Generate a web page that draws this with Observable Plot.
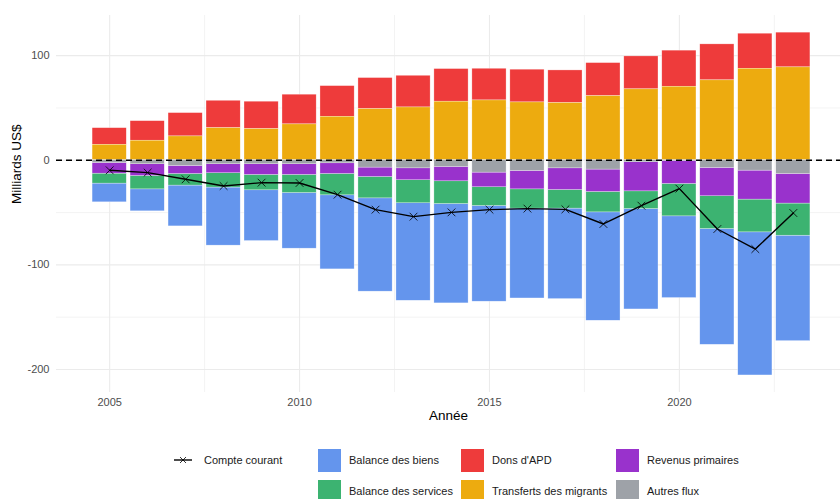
<!DOCTYPE html>
<html>
<head>
<meta charset="utf-8">
<script src="https://cdn.jsdelivr.net/npm/d3@7"></script>
<script src="https://cdn.jsdelivr.net/npm/@observablehq/plot@0.6"></script>
<style>
  html, body { margin: 0; padding: 0; background: #fff; overflow: hidden; }
  body { font-family: "Liberation Sans", Arial, sans-serif; width: 840px; height: 499px; }
  #legend { position: relative; width: 840px; height: 69px; font-size: 11px; color: #1a1a1a; }
  #legend .sw { position: absolute; width: 23px; height: 23px; }
  #legend .lb { position: absolute; line-height: 14px; white-space: nowrap; }
</style>
</head>
<body>
<div id="chart"></div>
<div id="legend"></div>
<script>
const years = [2005, 2006, 2007, 2008, 2009, 2010, 2011, 2012, 2013, 2014, 2015, 2016, 2017, 2018, 2019, 2020, 2021, 2022, 2023];

const transfertsMigrants = [14.8, 18.7, 22.8, 30.7, 29.8, 34.3, 41.6, 48.9, 50.5, 56.0, 57.2, 55.3, 54.7, 61.3, 67.8, 70.3, 76.4, 87.5, 88.8];
const donsAPD = [15.9, 18.7, 22.3, 26.2, 26.2, 28.4, 29.3, 29.7, 30.3, 31.2, 30.3, 31.3, 31.2, 31.6, 31.5, 34.5, 34.4, 33.5, 33.2];
const autresFlux = [-2.6, -3.8, -5.4, -3.8, -3.8, -3.8, -2.9, -7.0, -7.7, -6.4, -11.8, -10.2, -7.7, -8.9, -1.9, -0.6, -7.3, -9.9, -13.1];
const revenusPrimaires = [-10.2, -11.2, -7.7, -8.6, -10.2, -10.2, -10.2, -9.0, -11.4, -13.7, -14.0, -17.6, -20.7, -21.4, -27.8, -22.0, -27.1, -27.7, -28.3];
const balanceServices = [-9.5, -12.8, -11.1, -13.7, -14.7, -17.3, -20.4, -20.4, -22.0, -21.7, -17.9, -18.4, -17.8, -19.5, -16.9, -31.0, -31.3, -31.3, -30.7];
const balanceBiens = [-17.9, -21.0, -39.0, -55.5, -48.5, -53.2, -70.8, -89.2, -93.2, -95.0, -91.5, -85.9, -86.5, -103.6, -96.0, -78.1, -110.7, -136.8, -100.8];
const compteCourant = [-9.6, -11.8, -18.2, -24.6, -21.4, -21.7, -32.9, -47.2, -53.9, -49.8, -47.2, -46.2, -46.9, -60.9, -43.4, -27.1, -65.7, -84.9, -50.4];

const seriesNames = ["Balance des biens", "Balance des services", "Dons d'APD", "Transferts des migrants", "Revenus primaires", "Autres flux"];
const seriesColors = ["#6495ED", "#3CB371", "#EE3B3B", "#EDAB0F", "#9932CC", "#9EA2A8"];
const stackOrder = ["Autres flux", "Revenus primaires", "Balance des services", "Balance des biens", "Transferts des migrants", "Dons d'APD"];
const yTicks = [-200, -100, 0, 100];
const yMinor = [-150, -50, 50];
const xTicks = [2005, 2010, 2015, 2020];
const xMinor = [2007.5, 2012.5, 2017.5, 2022.5];

const seriesValues = {
  "Balance des biens": balanceBiens,
  "Balance des services": balanceServices,
  "Dons d'APD": donsAPD,
  "Transferts des migrants": transfertsMigrants,
  "Revenus primaires": revenusPrimaires,
  "Autres flux": autresFlux
};

const rows = [];
for (const name of seriesNames) {
  seriesValues[name].forEach((v, i) => rows.push({year: years[i], serie: name, value: v}));
}
const caRows = years.map((y, i) => ({year: y, value: compteCourant[i]}));

const chart = Plot.plot({
  width: 840,
  height: 430,
  marginLeft: 56,
  marginRight: 0,
  marginTop: 15,
  marginBottom: 38,
  style: {fontFamily: "'Liberation Sans', Arial, sans-serif", fontSize: "11px", color: "#4d4d4d", background: "white"},
  x: {type: "linear", domain: [2003.6, 2024.4], range: [56, 846], ticks: xTicks, tickFormat: d => String(d), tickSize: 0, tickPadding: 6, label: null},
  y: {domain: [-222, 138.4], ticks: yTicks, tickFormat: d => String(d), tickSize: 0, tickPadding: 7, label: null},
  color: {domain: seriesNames, range: seriesColors},
  marks: [
    Plot.ruleY(yMinor, {stroke: "#ebebeb", strokeWidth: 0.6}),
    Plot.ruleY(yTicks, {stroke: "#ebebeb", strokeWidth: 1.1}),
    Plot.ruleX(xMinor, {stroke: "#ebebeb", strokeWidth: 0.6}),
    Plot.ruleX(xTicks, {stroke: "#ebebeb", strokeWidth: 1.1}),
    Plot.rectY(rows, Plot.stackY({
      x1: d => d.year - 0.45,
      x2: d => d.year + 0.45,
      y: "value",
      fill: "serie",
      order: stackOrder,
      stroke: "white",
      strokeOpacity: 0.6,
      strokeWidth: 0.5
    })),
    Plot.ruleY([0], {stroke: "black", strokeWidth: 1.7, strokeDasharray: "6,4"}),
    Plot.line(caRows, {x: "year", y: "value", stroke: "black", strokeWidth: 1.4}),
    Plot.dot(caRows, {x: "year", y: "value", symbol: "times", r: 3.6, stroke: "black", strokeWidth: 0.8}),
    Plot.text(["Année"], {frameAnchor: "bottom", dy: 27, fontSize: 13.5, fill: "black"}),
    Plot.text(["Milliards US$"], {frameAnchor: "left", dx: -40, rotate: -90, fontSize: 13.5, fill: "black"})
  ]
});
document.getElementById("chart").appendChild(chart);

// Legend (HTML, below the SVG)
const legend = document.getElementById("legend");
const top0 = 430;
const legendLayout = [
  {name: "Balance des biens", sx: 318, row: 0},
  {name: "Balance des services", sx: 318, row: 1},
  {name: "Dons d'APD", sx: 461, row: 0},
  {name: "Transferts des migrants", sx: 461, row: 1},
  {name: "Revenus primaires", sx: 616, row: 0},
  {name: "Autres flux", sx: 616, row: 1}
];
const rowCenters = [460, 491];
for (const item of legendLayout) {
  const c = rowCenters[item.row] - top0;
  const sw = document.createElement("div");
  sw.className = "sw";
  sw.style.left = item.sx + "px";
  sw.style.top = (c - 11.5) + "px";
  sw.style.background = seriesColors[seriesNames.indexOf(item.name)];
  legend.appendChild(sw);
  const lb = document.createElement("div");
  lb.className = "lb";
  lb.style.left = (item.sx + 31) + "px";
  lb.style.top = (c - 7) + "px";
  lb.textContent = item.name;
  legend.appendChild(lb);
}
// line key for Compte courant
const ns = "http://www.w3.org/2000/svg";
const key = document.createElementNS(ns, "svg");
key.setAttribute("width", 22);
key.setAttribute("height", 14);
key.style.position = "absolute";
key.style.left = "172px";
key.style.top = (rowCenters[0] - top0 - 7) + "px";
const ln = document.createElementNS(ns, "line");
ln.setAttribute("x1", 2); ln.setAttribute("x2", 20); ln.setAttribute("y1", 7); ln.setAttribute("y2", 7);
ln.setAttribute("stroke", "black"); ln.setAttribute("stroke-width", 1.4);
key.appendChild(ln);
const mk = document.createElementNS(ns, "path");
mk.setAttribute("d", "M8,4L14,10M8,10L14,4");
mk.setAttribute("stroke", "black"); mk.setAttribute("stroke-width", 0.8);
key.appendChild(mk);
legend.appendChild(key);
const cl = document.createElement("div");
cl.className = "lb";
cl.style.left = "204px";
cl.style.top = (rowCenters[0] - top0 - 7) + "px";
cl.textContent = "Compte courant";
legend.appendChild(cl);
</script>
</body>
</html>
